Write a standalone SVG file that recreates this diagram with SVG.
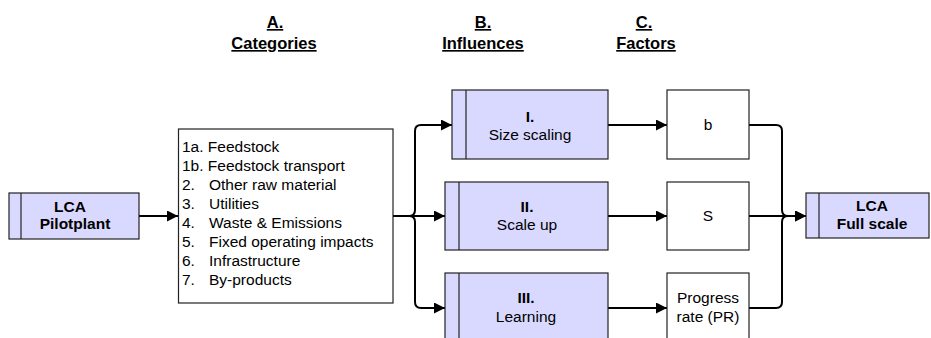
<svg xmlns="http://www.w3.org/2000/svg" width="931" height="338" viewBox="0 0 931 338">
<style>
text{font-family:"Liberation Sans",Arial,sans-serif;fill:#000;}
.h{font-size:16.5px;font-weight:bold;text-anchor:middle;text-decoration:underline;}
.t{font-size:15.5px;text-anchor:middle;}
.b{font-weight:bold;}
.l{font-size:15.5px;}
.p{fill:#D9D9FF;stroke:#222;stroke-width:1.2;}
.w{fill:#fff;stroke:#222;stroke-width:1.2;}
.in{stroke:#222;stroke-width:1.2;}
.c{fill:none;stroke:#000;stroke-width:2;}
</style>
<defs>
<marker id="ar" viewBox="0 0 10 10" refX="10" refY="5" markerWidth="5.5" markerHeight="5.5" orient="auto" markerUnits="strokeWidth">
<path d="M0,0 L10,5 L0,10 z" fill="#000"/>
</marker>
</defs>
<g id="headers">
<text class="h" x="275" y="28">A.</text>
<text class="h" x="274" y="49">Categories</text>
<text class="h" x="483" y="28">B.</text>
<text class="h" x="483" y="49">Influences</text>
<text class="h" x="644" y="28">C.</text>
<text class="h" x="646" y="49">Factors</text>
</g>
<g id="connectors">
<path class="c" d="M139,216 H178" marker-end="url(#ar)"/>
<path class="c" d="M393,216 H409 Q415,216 415,210 V131 Q415,125 421,125 H452" marker-end="url(#ar)"/>
<path class="c" d="M393,216 H445" marker-end="url(#ar)"/>
<path class="c" d="M409,216 Q415,216 415,222 V302 Q415,308 421,308 H445" marker-end="url(#ar)"/>
<path class="c" d="M608,125 H667" marker-end="url(#ar)"/>
<path class="c" d="M608,216 H667" marker-end="url(#ar)"/>
<path class="c" d="M608,308 H667" marker-end="url(#ar)"/>
<path class="c" d="M749,125 H776 Q782,125 782,131 V210 Q782,216 788,216 H806" marker-end="url(#ar)"/>
<path class="c" d="M749,216 H806" marker-end="url(#ar)"/>
<path class="c" d="M749,308 H776 Q782,308 782,302 V222 Q782,216 788,216"/>
</g>
<g id="pilotplant">
<rect class="p" x="9" y="193" width="130" height="46"/>
<line class="in" x1="21" y1="193" x2="21" y2="239"/>
<text class="t b" x="70" y="212">LCA</text>
<text class="t b" x="75" y="229">Pilotplant</text>
</g>
<g id="categories">
<rect class="w" x="178.5" y="129" width="214.5" height="174"/>
<text class="l" x="182" y="152">1a. Feedstock</text>
<text class="l" x="182" y="171">1b. Feedstock transport</text>
<text class="l" x="182" y="190">2.</text><text class="l" x="209" y="190">Other raw material</text>
<text class="l" x="182" y="209">3.</text><text class="l" x="209" y="209">Utilities</text>
<text class="l" x="182" y="228">4.</text><text class="l" x="209" y="228">Waste &amp; Emissions</text>
<text class="l" x="182" y="247">5.</text><text class="l" x="209" y="247">Fixed operating impacts</text>
<text class="l" x="182" y="266">6.</text><text class="l" x="209" y="266">Infrastructure</text>
<text class="l" x="182" y="285">7.</text><text class="l" x="209" y="285">By-products</text>
</g>
<g id="size-scaling">
<rect class="p" x="452" y="90" width="156" height="69"/>
<line class="in" x1="466" y1="90" x2="466" y2="159"/>
<text class="t b" x="530" y="122">I.</text>
<text class="t" x="530" y="140">Size scaling</text>
</g>
<g id="scale-up">
<rect class="p" x="445" y="182" width="163" height="68"/>
<line class="in" x1="459" y1="182" x2="459" y2="250"/>
<text class="t b" x="527" y="212">II.</text>
<text class="t" x="527" y="230">Scale up</text>
</g>
<g id="learning">
<rect class="p" x="445" y="273" width="163" height="69"/>
<line class="in" x1="459" y1="273" x2="459" y2="342"/>
<text class="t b" x="526" y="303">III.</text>
<text class="t" x="526" y="322">Learning</text>
</g>
<g id="factor-b">
<rect class="w" x="667" y="90" width="82" height="69"/>
<text class="t" x="708" y="130">b</text>
</g>
<g id="factor-s">
<rect class="w" x="667" y="182" width="82" height="68"/>
<text class="t" x="708" y="221">S</text>
</g>
<g id="factor-pr">
<rect class="w" x="667" y="273" width="82" height="69"/>
<text class="t" x="708" y="303">Progress</text>
<text class="t" x="708" y="322">rate (PR)</text>
</g>
<g id="fullscale">
<rect class="p" x="806" y="193" width="123" height="45"/>
<line class="in" x1="819" y1="193" x2="819" y2="238"/>
<text class="t b" x="872" y="211">LCA</text>
<text class="t b" x="872" y="229">Full scale</text>
</g>
</svg>
